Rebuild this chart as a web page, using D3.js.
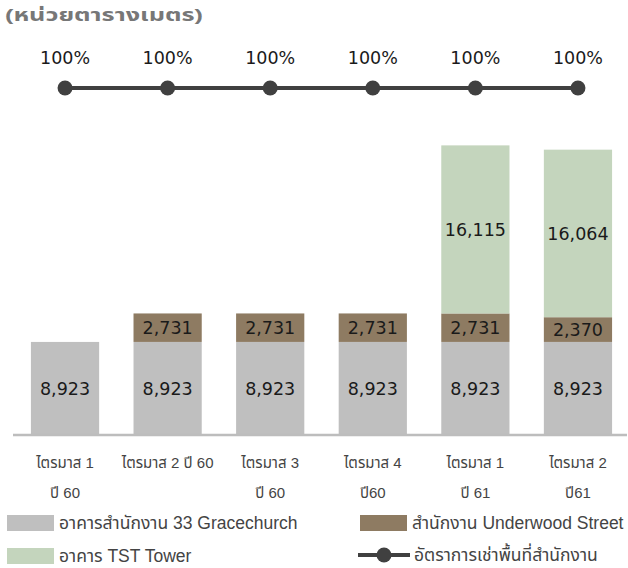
<!DOCTYPE html>
<html><head><meta charset="utf-8">
<script src="https://cdn.jsdelivr.net/npm/d3@7"></script>
<style>html,body{margin:0;padding:0;background:#fff;}svg{display:block;}</style>
</head><body>
<script>
const categories = ["Q1-60","Q2-60","Q3-60","Q4-60","Q1-61","Q2-61"];
const categoryLines = [["ไตรมาส 1","ปี 60"],["ไตรมาส 2 ปี 60"],["ไตรมาส 3","ปี 60"],["ไตรมาส 4","ปี60"],["ไตรมาส 1","ปี 61"],["ไตรมาส 2","ปี61"]];
const gracechurch = [8923, 8923, 8923, 8923, 8923, 8923];
const underwood = [0, 2731, 2731, 2731, 2731, 2370];
const tstTower = [0, 0, 0, 0, 16115, 16064];
const occupancy = [100, 100, 100, 100, 100, 100];
const seriesNames = ["อาคารสำนักงาน 33 Gracechurch","สำนักงาน Underwood Street","อาคาร TST Tower","อัตราการเช่าพื้นที่สำนักงาน"];
const unitLabel = "(หน่วยตารางเมตร)";

const W = 628, H = 568;
const colors = {g:"#bfbfbf", u:"#8e7b62", t:"#c4d5bd", line:"#404040"};
const svg = d3.select("body").append("svg").attr("width", W).attr("height", H);
const thaiFont = "'Liberation Sans', Arial, 'Noto Sans Thai', sans-serif";

const x = d3.scaleBand().domain(categories).range([14, 629]).paddingInner(0.335).paddingOuter(0.165);
const y = d3.scaleLinear().domain([0, 30000]).range([435, 435 - 312.9]);

const stackData = categories.map((c,i)=>({cat:c, g:gracechurch[i], u:underwood[i], t:tstTower[i]}));
const stack = d3.stack().keys(["g","u","t"])(stackData);

stack.forEach(layer => {
  const key = layer.key;
  svg.append("g").selectAll("rect").data(layer.filter(d=>d[1]-d[0]>0)).join("rect")
    .attr("x", d=>x(d.data.cat)).attr("width", x.bandwidth())
    .attr("y", d=>y(d[1])).attr("height", d=>y(d[0])-y(d[1]))
    .attr("fill", colors[key]);
  svg.append("g").selectAll("text").data(layer.filter(d=>d[1]-d[0]>0)).join("text")
    .attr("x", d=>x(d.data.cat)+x.bandwidth()/2)
    .attr("y", d=>(y(d[0])+y(d[1]))/2 + 6.5)
    .attr("text-anchor","middle")
    .attr("font-family","'DejaVu Sans', Verdana, sans-serif")
    .attr("font-size", 17.5).attr("fill","#1a1a1a")
    .text(d=>d3.format(",")(d[1]-d[0]));
});

// axis
const axis = svg.append("g").attr("transform","translate(0,435)")
  .call(d3.axisBottom(x).tickSize(0).tickFormat(""));
axis.select(".domain").attr("stroke","#bdbdbd").attr("stroke-width",2.5).attr("d","M13,0H627");

// x labels
categories.forEach((c,i)=>{
  const t = svg.append("text").attr("text-anchor","middle")
    .attr("font-family", thaiFont).attr("font-size",15).attr("fill","#444");
  categoryLines[i].forEach((ln,j)=>{
    t.append("tspan").attr("x", x(c)+x.bandwidth()/2).attr("y", 468 + j*30).text(ln);
  });
});

// occupancy line
const yl = d3.scaleLinear().domain([0, 100]).range([400, 88]);
const line = d3.line().x((d,i)=>x(categories[i])+x.bandwidth()/2).y(d=>yl(d));
svg.append("path").datum(occupancy).attr("d", line).attr("fill","none")
  .attr("stroke", colors.line).attr("stroke-width",4);
svg.append("g").selectAll("circle").data(occupancy).join("circle")
  .attr("cx",(d,i)=>x(categories[i])+x.bandwidth()/2).attr("cy",d=>yl(d)).attr("r",7.5)
  .attr("fill", colors.line);
svg.append("g").selectAll("text").data(occupancy).join("text")
  .attr("x",(d,i)=>x(categories[i])+x.bandwidth()/2).attr("y",d=>yl(d)-24)
  .attr("text-anchor","middle").attr("font-family","'DejaVu Sans', Verdana, sans-serif")
  .attr("font-size",17.5).attr("fill","#1a1a1a").text(d=>d+"%");

// unit label
svg.append("text").attr("x",5).attr("y",21).attr("font-family",thaiFont)
  .attr("font-size",17).attr("font-weight","bold")
  .attr("textLength",198).attr("lengthAdjust","spacingAndGlyphs")
  .attr("fill","#777").text(unitLabel);

// legend
const leg = [
  {name:seriesNames[0], type:"rect", color:colors.g, x:7, y:523},
  {name:seriesNames[1], type:"rect", color:colors.u, x:360, y:523},
  {name:seriesNames[2], type:"rect", color:colors.t, x:7, y:556},
  {name:seriesNames[3], type:"line", color:colors.line, x:358, y:555}
];
leg.forEach(l=>{
  const g = svg.append("g");
  if(l.type==="rect"){
    g.append("rect").attr("x",l.x).attr("y",l.y-8).attr("width",47).attr("height",16).attr("fill",l.color);
  } else {
    g.append("line").attr("x1",l.x).attr("x2",l.x+52).attr("y1",l.y).attr("y2",l.y).attr("stroke",l.color).attr("stroke-width",4);
    g.append("circle").attr("cx",l.x+26).attr("cy",l.y).attr("r",7.5).attr("fill",l.color);
  }
  g.append("text").attr("x", l.x + (l.type==="rect"?52:56)).attr("y", l.y+6)
    .attr("font-family",thaiFont).attr("font-size",17.5).attr("fill","#444").text(l.name);
});
</script>
</body></html>
